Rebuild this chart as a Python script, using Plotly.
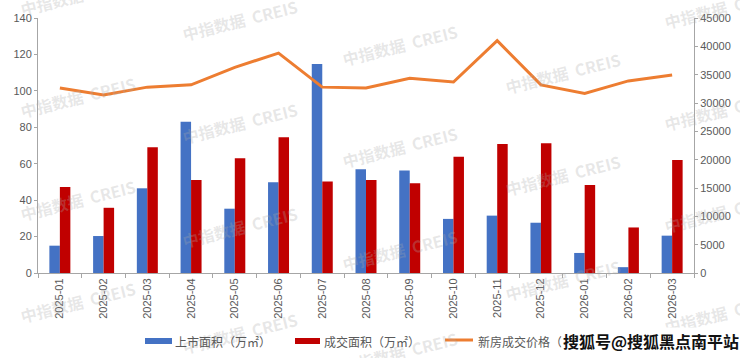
import plotly.graph_objects as go

months = ["2025-01", "2025-02", "2025-03", "2025-04", "2025-05", "2025-06", "2025-07",
          "2025-08", "2025-09", "2025-10", "2025-11", "2025-12", "2026-01", "2026-02", "2026-03"]
listed_area = [15, 20.3, 46.5, 83, 35.3, 49.8, 114.8, 57, 56.3, 29.7, 31.5, 27.6, 11, 3.2, 20.5]
sold_area = [47.2, 35.8, 69, 51, 63, 74.5, 50.3, 51, 49.3, 63.8, 70.8, 71.2, 48.3, 25, 62]
price = [32650, 31400, 32800, 33200, 36300, 38800, 32800, 32650, 34350, 33700, 41000, 33200, 31700, 33900, 34950]

legend_labels = ["上市面积（万㎡）", "成交面积（万㎡）", "新房成交价格（元/㎡）"]
watermark_text = "中指数据  CREIS"
source_text = "搜狐号@搜狐黑点南平站"

BLUE = "#4472C4"
RED = "#C00000"
ORANGE = "#ED7D31"
AXIS = "#A6A6A6"
TXT = "#595959"
CJK = "Noto Sans CJK SC"
NUM = "Liberation Sans"

W, H = 740, 358
L, R, T, B = 38, 46, 18, 85
PW, PH = W - L - R, H - T - B


def px(x):
    return (x - L) / PW


def py(y):
    return (H - B - y) / PH


fig = go.Figure()
fig.add_trace(go.Bar(x=months, y=listed_area, name=legend_labels[0], marker=dict(color=BLUE, line=dict(width=0)), yaxis="y"))
fig.add_trace(go.Bar(x=months, y=sold_area, name=legend_labels[1], marker=dict(color=RED, line=dict(width=0)), yaxis="y"))
fig.add_trace(go.Scatter(x=months, y=price, name=legend_labels[2], mode="lines",
                         line=dict(color=ORANGE, width=3), yaxis="y2"))

annotations = []
shapes = []

# watermarks
wm_positions = [
    (78, -5), (78, 97), (78, 200), (78, 302),
    (240, 20), (240, 123), (240, 227), (240, 333),
    (400, 45), (400, 147), (400, 250), (400, 352),
    (563, 73), (563, 175), (563, 280),
    (722, 8), (722, 110), (722, 212), (722, 313),
]
for (wx, wy) in wm_positions:
    annotations.append(dict(x=px(wx), y=py(wy), xref="paper", yref="paper", text=watermark_text,
                            showarrow=False, textangle=-14, xanchor="center", yanchor="middle",
                            font=dict(family=CJK, size=16, color="rgba(170,170,170,0.28)", weight="bold")))

# manual legend
ly = 341
shapes.append(dict(type="rect", xref="paper", yref="paper", x0=px(145), x1=px(172), y0=py(344), y1=py(338),
                   fillcolor=BLUE, line=dict(width=0)))
shapes.append(dict(type="rect", xref="paper", yref="paper", x0=px(295), x1=px(320), y0=py(344), y1=py(338),
                   fillcolor=RED, line=dict(width=0)))
shapes.append(dict(type="line", xref="paper", yref="paper", x0=px(445), x1=px(473), y0=py(340), y1=py(340),
                   line=dict(color=ORANGE, width=3)))
for tx, txt in [(173, legend_labels[0]), (322, legend_labels[1]), (476, legend_labels[2])]:
    annotations.append(dict(x=px(tx), y=py(ly), xref="paper", yref="paper", text=txt, showarrow=False,
                            xanchor="left", yanchor="middle", font=dict(family=CJK, size=12, color=TXT)))

annotations.append(dict(x=px(561), y=py(ly), xref="paper", yref="paper", text=source_text, showarrow=False,
                        xanchor="left", yanchor="middle", bgcolor="white", borderpad=1,
                        font=dict(family=CJK, size=16, color="#111111", weight="bold")))

fig.update_layout(
    width=W, height=H,
    margin=dict(l=L, r=R, t=T, b=B, autoexpand=False),
    paper_bgcolor="white", plot_bgcolor="white",
    showlegend=False,
    barmode="group", bargap=0.52, bargroupgap=0,
    xaxis=dict(type="category", tickangle=-90, showline=True, linecolor=AXIS, linewidth=1,
               ticks="outside", tickson="boundaries", ticklen=4, tickcolor=AXIS,
               tickfont=dict(family=NUM, size=11, color=TXT), showgrid=False, automargin=False),
    yaxis=dict(range=[0, 140], dtick=20, showline=True, linecolor=AXIS, linewidth=1,
               ticks="outside", ticklen=3, tickcolor=AXIS, showgrid=False, zeroline=False,
               tickfont=dict(family=NUM, size=11, color=TXT), automargin=False),
    yaxis2=dict(range=[0, 45000], dtick=5000, overlaying="y", side="right", showline=True,
                linecolor=AXIS, linewidth=1, ticks="outside", ticklen=3, tickcolor=AXIS,
                showgrid=False, zeroline=False, tickformat="d",
                tickfont=dict(family=NUM, size=11, color=TXT), automargin=False),
    annotations=annotations,
    shapes=shapes,
)

fig.write_html("out.html", config={"displayModeBar": False},
               post_script="document.body.style.margin='0';document.body.style.padding='0';")
